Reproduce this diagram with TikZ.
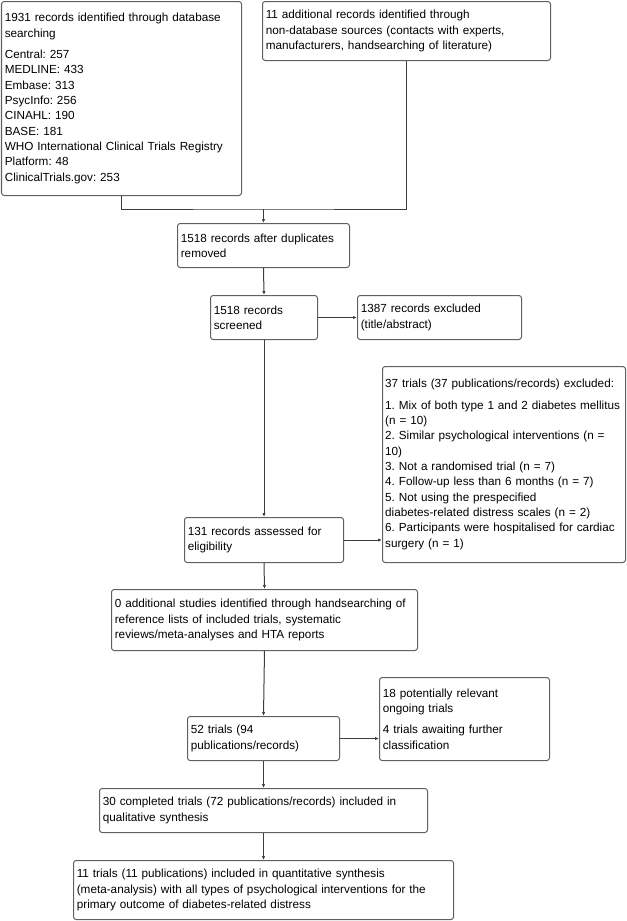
\documentclass[tikz,border=0pt]{standalone}
\usepackage{fontspec}
\setmainfont{Liberation Sans}
\usepackage{tikz}
\usetikzlibrary{calc,arrows.meta,positioning}
\definecolor{flowGray}{RGB}{96,96,96}
\definecolor{flowGrayDark}{RGB}{60,60,60}
\frenchspacing
\hyphenpenalty=10000
\exhyphenpenalty=10000

\begin{document}
\begin{tikzpicture}[x=0.75pt,y=-0.75pt,
  box/.style={draw=flowGray, line width=0.75pt, rounded corners=2pt, anchor=north west,
    inner xsep=2.5pt, inner ysep=2pt, align=left,
    font=\fontsize{8.8pt}{11.5pt}\selectfont},
  link/.style={flowGrayDark, line width=0.75pt},
  arrow/.style={link, -{Latex[length=3pt,width=2.5pt]}}]
\useasboundingbox (0,0) rectangle (627,921);
\node[box, text width=175pt, minimum height=194*0.75pt] (search) at (1,1)
  {1931 records identified through database\\searching\\[4.5pt]
   Central: 257\\MEDLINE: 433\\Embase: 313\\PsycInfo: 256\\CINAHL: 190\\BASE: 181\\
   WHO International Clinical Trials Registry\\Platform: 48\\ClinicalTrials.gov: 253};
\node[box, text width=211pt, minimum height=59*0.75pt] (other) at (262,1)
  {11 additional records identified through\\non-database sources (contacts with experts,\\manufacturers, handsearching of literature)};
\node[box, text width=124pt, minimum height=44*0.75pt] (dedup) at (177,223)
  {1518 records after duplicates\\removed};
\node[box, text width=75.25pt, minimum height=44*0.75pt] (screen) at (210,295)
  {1518 records\\screened};
\node[box, text width=118pt, minimum height=44*0.75pt] (excl) at (357,295)
  {1387 records excluded\\(title/abstract)};
\node[box, inner xsep=2pt, text width=178.25pt, minimum height=196*0.75pt] (trialsout) at (382,366)
  {37 trials (37 publications/records) excluded:\\[4.5pt]
   \mbox{1. Mix of both type 1 and 2 diabetes mellitus}\\(n = 10)\\
   \mbox{2. Similar psychological interventions (n =}\\10)\\
   3. Not a randomised trial (n = 7)\\
   4. Follow-up less than 6 months (n = 7)\\
   5. Not using the prespecified\\diabetes-related distress scales (n = 2)\\
   \mbox{6. Participants were hospitalised for cardiac}\\surgery (n = 1)};
\node[box, text width=114.25pt, minimum height=45*0.75pt] (elig) at (184,517)
  {131 records assessed for\\eligibility};
\node[box, text width=224.5pt, minimum height=61*0.75pt] (hand) at (111,589)
  {0 additional studies identified through handsearching of\\reference lists of included trials, systematic\\reviews/meta-analyses and HTA reports};
\node[box, text width=109pt, minimum height=44*0.75pt] (trials) at (187,716)
  {52 trials (94\\publications/records)};
\node[box, text width=122.5pt, minimum height=83*0.75pt] (ongoing) at (379,677)
  {18 potentially relevant\\ongoing trials\\[4.5pt]4 trials awaiting further\\classification};
\node[box, text width=241pt, minimum height=44*0.75pt] (quali) at (99,788)
  {30 completed trials (72 publications/records) included in\\qualitative synthesis};
\node[box, text width=280pt, minimum height=59*0.75pt] (quanti) at (73,860)
  {11 trials (11 publications) included in quantitative synthesis\\(meta-analysis) with all types of psychological interventions for the\\primary outcome of diabetes-related distress};
% connectors
\coordinate (merge) at (263.5,209);
\draw[link] (search.south) |- (merge) -| (other.south);
\draw[arrow] (merge) -- (dedup.north);
\draw[arrow] (dedup.south) -- (screen.north);
\draw[arrow] (screen.east) -- (excl.west);
\draw[arrow] (screen.south) -- (elig.north);
\draw[arrow] (elig.east) -- (elig.east -| trialsout.west);
\draw[arrow] (elig.south) -- (hand.north);
\draw[arrow] (hand.south) -- (trials.north);
\draw[arrow] (trials.east) -- (trials.east -| ongoing.west);
\draw[arrow] (trials.south) -- (quali.north);
\draw[arrow] (quali.south) -- (quanti.north);
\end{tikzpicture}
\end{document}
